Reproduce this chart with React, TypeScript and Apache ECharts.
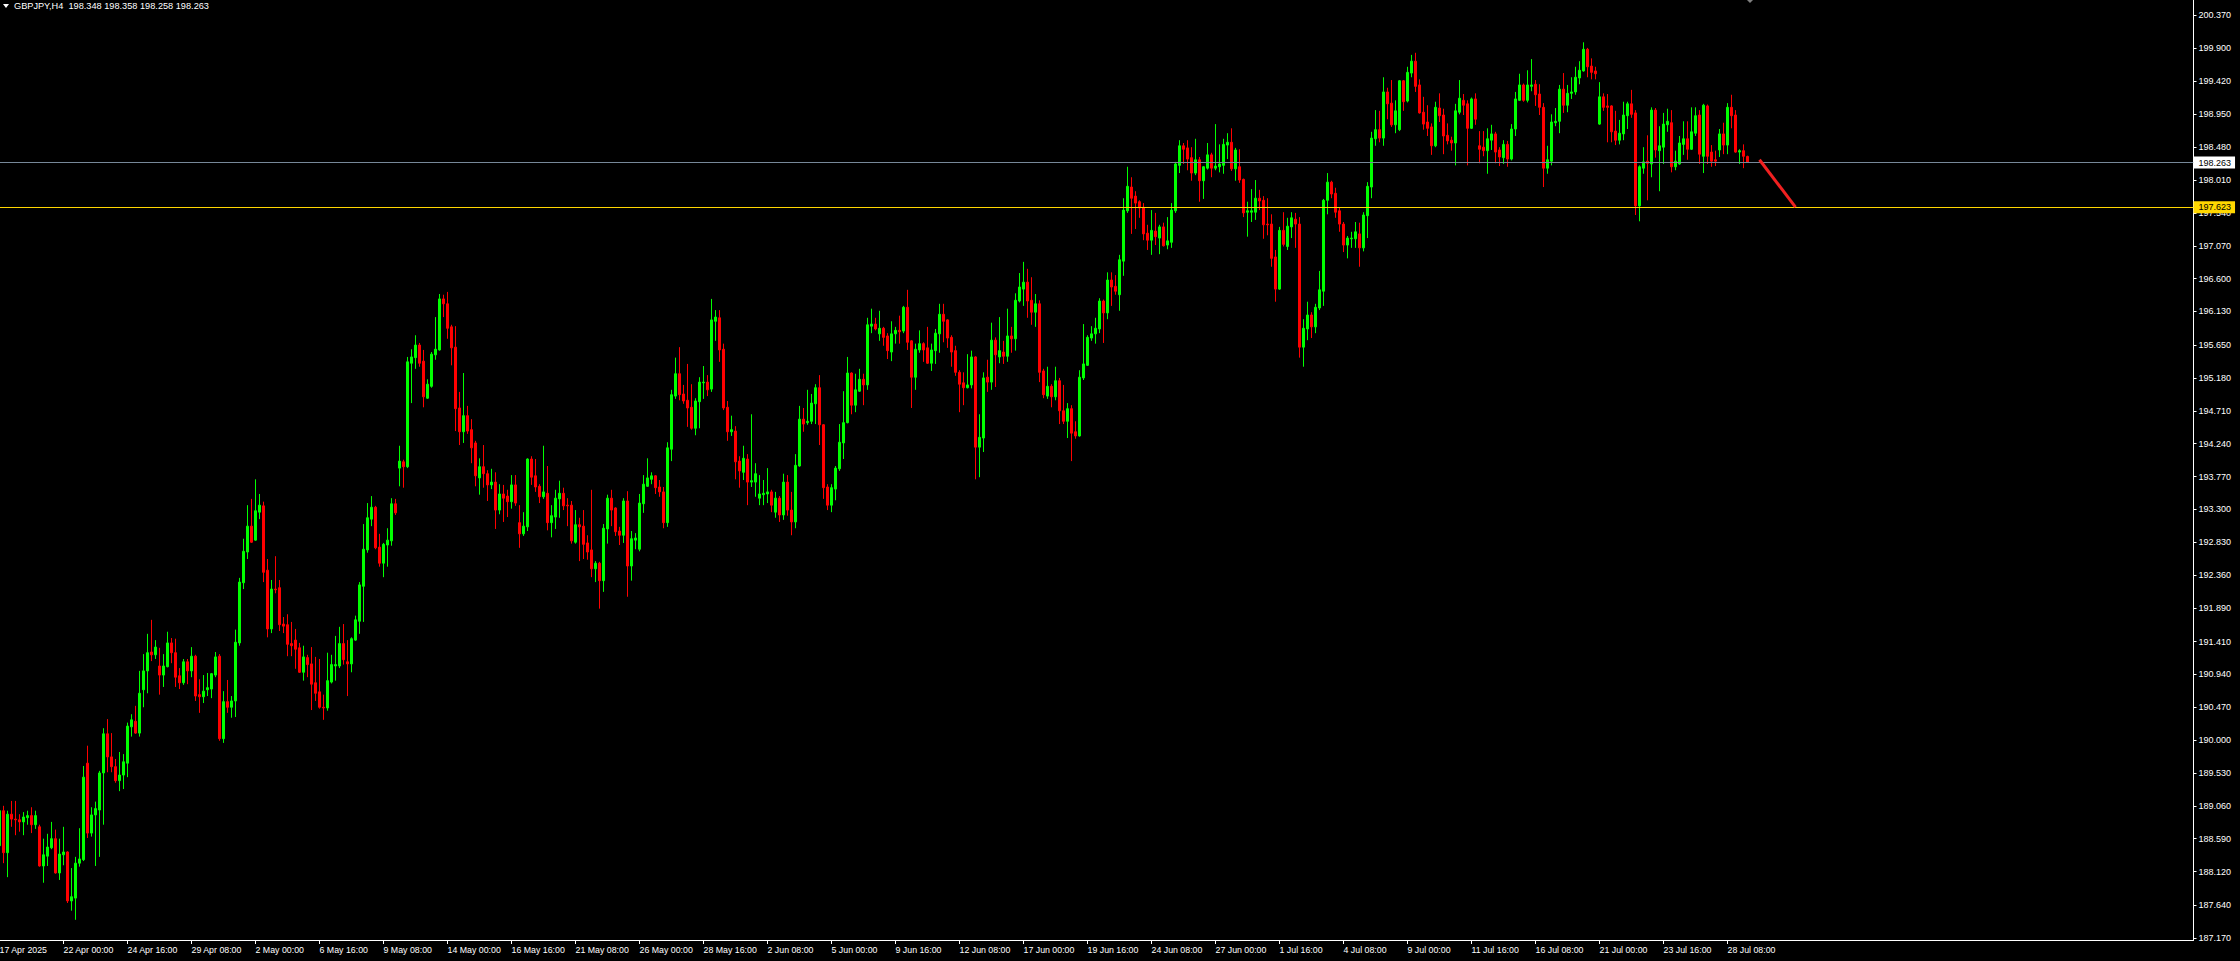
import React, { useEffect, useRef } from 'react';
import * as echarts from 'echarts';

// ---------- data ----------
const symbol = 'GBPJPY';
const period = 'H4';
const firstLabel = '17 Apr 2025';
const startTimeUTC = Date.UTC(2025, 3, 17, 8, 0); // first bar: Thu 17 Apr 2025 08:00
const barHours = 4;
const labelEvery = 16;
const shiftBars = 111; // empty slots right of the last bar (chart shift)

const yTickLabels = [
  '187.170', '187.640', '188.120', '188.590', '189.060', '189.530', '190.000', '190.470',
  '190.940', '191.410', '191.890', '192.360', '192.830', '193.300', '193.770', '194.240',
  '194.710', '195.180', '195.650', '196.130', '196.600', '197.070', '197.540', '198.010',
  '198.480', '198.950', '199.420', '199.900', '200.370',
];
const yMin = 187.141;
const yMax = 200.585;

const bidPrice = 198.263;
const levelPrice = 197.623;
const arrowFrom = [440, 198.3];
const arrowTo = [449, 197.623];

// open, close, low, high
const candles: number[][] = [
  [188.49, 188.99, 188.36, 189.06], [188.99, 188.39, 188.24, 189.06], [188.39, 188.94, 188.04, 188.99], [188.94, 188.87, 188.76, 189.13],
  [188.87, 188.86, 188.64, 189.13], [188.86, 188.83, 188.69, 188.94], [188.83, 188.90, 188.64, 188.97], [188.89, 188.92, 188.79, 188.99],
  [188.92, 188.79, 188.67, 189.04], [188.79, 188.92, 188.73, 188.99], [188.76, 188.20, 188.19, 188.79], [188.20, 188.36, 187.96, 188.59],
  [188.34, 188.47, 188.20, 188.66], [188.46, 188.59, 188.44, 188.83], [188.59, 188.10, 188.09, 188.72], [188.10, 188.37, 188.00, 188.59],
  [188.36, 188.40, 188.21, 188.76], [188.40, 187.70, 187.67, 188.41], [187.70, 187.76, 187.56, 188.17], [187.74, 188.24, 187.43, 188.33],
  [188.24, 188.30, 188.19, 188.74], [188.29, 189.47, 188.27, 189.63], [189.67, 188.67, 188.60, 189.92], [188.67, 188.93, 188.62, 189.04],
  [188.93, 189.02, 188.20, 189.12], [189.00, 189.53, 188.33, 189.56], [189.53, 190.09, 188.79, 190.17], [190.09, 189.76, 189.54, 190.30],
  [189.76, 189.62, 189.54, 190.10], [189.62, 189.42, 189.39, 189.73], [189.42, 189.50, 189.27, 189.83], [189.50, 189.69, 189.30, 189.80],
  [189.67, 190.20, 189.47, 190.25], [190.19, 190.29, 190.05, 190.37], [190.27, 190.10, 190.09, 190.49], [190.10, 190.67, 190.05, 190.99],
  [190.72, 190.99, 190.47, 191.23], [190.99, 191.25, 190.67, 191.52], [191.26, 191.22, 191.13, 191.72], [191.22, 191.33, 191.16, 191.43],
  [191.06, 190.93, 190.65, 191.32], [190.93, 191.06, 190.76, 191.23], [191.05, 191.39, 191.04, 191.55], [191.39, 191.25, 191.10, 191.46],
  [191.25, 190.90, 190.76, 191.45], [190.92, 190.82, 190.73, 191.03], [190.82, 191.12, 190.79, 191.16], [191.12, 190.99, 190.80, 191.16],
  [190.99, 191.20, 190.90, 191.33], [191.20, 190.63, 190.56, 191.22], [190.65, 190.62, 190.39, 190.87], [190.62, 190.70, 190.53, 190.93],
  [190.72, 190.75, 190.63, 190.96], [190.73, 190.95, 190.60, 190.96], [190.93, 191.19, 190.90, 191.26], [191.20, 190.02, 189.99, 191.23],
  [190.02, 190.55, 189.96, 190.70], [190.55, 190.47, 190.39, 190.86], [190.47, 190.56, 190.32, 190.63], [190.56, 191.40, 190.33, 191.58],
  [191.39, 192.26, 191.35, 192.32], [192.25, 192.70, 192.16, 192.88], [192.69, 193.06, 192.59, 193.36], [193.06, 192.83, 192.82, 193.45],
  [192.86, 193.28, 192.85, 193.73], [193.26, 193.36, 193.16, 193.52], [193.35, 192.40, 192.26, 193.41], [192.43, 191.59, 191.47, 192.59],
  [191.59, 192.16, 191.53, 192.29], [192.16, 192.15, 192.10, 192.63], [192.18, 191.65, 191.56, 192.29], [191.66, 191.63, 191.53, 191.76],
  [191.65, 191.37, 191.20, 191.80], [191.38, 191.35, 191.20, 191.69], [191.43, 191.30, 191.02, 191.59], [191.32, 190.97, 190.96, 191.39],
  [190.97, 191.19, 190.85, 191.35], [191.18, 191.08, 190.90, 191.22], [191.09, 190.80, 190.43, 191.33], [190.82, 190.67, 190.56, 191.19],
  [190.69, 190.47, 190.45, 191.16], [190.47, 190.46, 190.29, 190.65], [190.46, 190.85, 190.42, 191.25], [190.83, 191.08, 190.81, 191.22],
  [191.06, 191.08, 190.85, 191.49], [191.06, 191.38, 191.03, 191.62], [191.38, 191.15, 191.08, 191.66], [191.12, 191.09, 190.63, 191.43],
  [191.09, 191.45, 190.97, 191.47], [191.43, 191.72, 191.42, 191.78], [191.70, 192.22, 191.52, 192.26], [192.20, 192.73, 191.69, 193.09],
  [192.72, 193.18, 192.68, 193.39], [193.16, 193.33, 193.06, 193.49], [193.33, 192.75, 192.73, 193.35], [192.76, 192.53, 192.48, 192.95],
  [192.53, 192.80, 192.33, 192.82], [192.79, 192.86, 192.48, 193.03], [192.85, 193.38, 192.78, 193.46], [193.38, 193.25, 193.22, 193.45],
  [193.89, 193.99, 193.63, 194.21], [193.98, 193.91, 193.61, 194.01], [193.91, 195.41, 193.89, 195.48], [195.39, 195.48, 194.82, 195.59],
  [195.47, 195.65, 195.31, 195.79], [195.65, 195.39, 195.34, 195.68], [195.42, 194.91, 194.76, 195.58], [194.89, 195.09, 194.88, 195.16],
  [195.06, 195.52, 195.04, 195.55], [195.51, 195.59, 195.44, 196.05], [195.58, 196.31, 195.57, 196.38], [196.31, 196.24, 196.05, 196.37],
  [196.24, 195.89, 195.74, 196.41], [195.91, 195.61, 195.36, 195.94], [195.62, 194.74, 194.42, 195.92], [194.75, 194.41, 194.22, 194.98],
  [194.41, 194.64, 194.25, 195.25], [194.64, 194.42, 194.38, 194.78], [194.44, 194.18, 193.96, 194.59], [194.25, 193.78, 193.63, 194.28],
  [193.75, 193.91, 193.51, 194.03], [193.91, 193.81, 193.61, 194.22], [193.81, 193.65, 193.42, 193.86], [193.65, 193.69, 193.59, 193.88],
  [193.69, 193.29, 193.02, 193.83], [193.29, 193.52, 193.23, 193.66], [193.52, 193.46, 193.12, 193.65], [193.49, 193.41, 193.19, 193.58],
  [193.41, 193.65, 193.31, 193.79], [193.65, 193.39, 193.35, 193.79], [193.11, 192.95, 192.75, 193.36], [192.95, 193.06, 192.92, 193.26],
  [193.05, 194.02, 192.99, 194.03], [194.02, 193.76, 193.65, 194.06], [193.78, 193.62, 193.55, 194.02], [193.63, 193.48, 193.39, 193.66],
  [193.48, 193.55, 193.45, 194.21], [193.53, 193.11, 193.00, 193.92], [193.11, 193.21, 192.90, 193.36], [193.19, 193.46, 193.02, 193.58],
  [193.45, 193.53, 193.18, 193.71], [193.53, 193.35, 193.29, 193.61], [193.36, 193.35, 193.06, 193.46], [193.36, 192.85, 192.81, 193.42],
  [192.83, 193.08, 192.81, 193.29], [193.08, 193.05, 192.56, 193.18], [193.06, 192.80, 192.59, 193.29], [192.82, 192.69, 192.58, 192.93],
  [192.72, 192.45, 192.33, 193.58], [192.45, 192.53, 192.26, 192.56], [192.53, 192.28, 191.88, 192.55], [192.28, 193.03, 192.12, 193.09],
  [193.02, 193.46, 192.81, 193.51], [193.46, 193.29, 193.06, 193.58], [193.32, 192.98, 192.92, 193.33], [192.99, 192.93, 192.79, 193.05],
  [192.93, 193.42, 192.82, 193.46], [193.42, 192.49, 192.05, 193.56], [192.49, 192.88, 192.28, 192.99], [192.86, 192.89, 192.73, 192.96],
  [192.73, 193.39, 192.70, 193.52], [193.38, 193.66, 193.25, 193.79], [193.63, 193.75, 193.62, 194.03], [193.73, 193.78, 193.66, 193.83],
  [193.78, 193.61, 193.52, 193.79], [193.62, 193.55, 193.48, 193.72], [193.55, 193.11, 193.03, 193.62], [193.11, 194.18, 193.05, 194.26],
  [194.16, 194.94, 193.99, 195.01], [194.92, 195.24, 194.88, 195.47], [195.24, 194.94, 194.86, 195.62], [194.95, 194.85, 194.81, 195.08],
  [194.86, 194.75, 194.48, 195.38], [194.76, 194.46, 194.44, 195.09], [194.46, 194.85, 194.36, 194.89], [194.84, 195.12, 194.46, 195.19],
  [195.11, 195.12, 194.88, 195.35], [195.12, 195.01, 194.92, 195.22], [195.02, 196.01, 194.98, 196.31], [195.99, 196.05, 195.71, 196.15],
  [196.04, 195.58, 195.41, 196.15], [195.59, 194.75, 194.72, 195.67], [194.76, 194.41, 194.28, 194.85], [194.41, 194.44, 194.35, 194.64],
  [194.42, 193.98, 193.73, 194.49], [193.99, 193.85, 193.61, 194.06], [193.83, 194.03, 193.72, 194.21], [194.02, 193.69, 193.36, 194.09],
  [193.69, 193.71, 193.62, 194.66], [193.69, 193.81, 193.48, 193.96], [193.46, 193.52, 193.36, 193.79], [193.51, 193.53, 193.36, 193.72],
  [193.52, 193.55, 193.39, 193.89], [193.55, 193.36, 193.26, 193.58], [193.26, 193.46, 193.18, 193.55], [193.46, 193.22, 193.12, 193.49],
  [193.22, 193.69, 193.15, 193.81], [193.69, 193.29, 193.21, 193.79], [193.29, 193.12, 192.93, 193.55], [193.12, 193.93, 193.03, 194.09],
  [193.92, 194.59, 193.91, 194.78], [194.59, 194.52, 194.41, 194.75], [194.54, 194.56, 194.51, 195.01], [194.56, 194.82, 194.52, 194.95],
  [194.81, 195.04, 194.52, 195.09], [195.04, 194.51, 194.22, 195.22], [194.51, 193.61, 193.45, 194.52], [193.62, 193.36, 193.29, 193.66],
  [193.36, 193.61, 193.26, 193.66], [193.59, 193.89, 193.43, 193.92], [193.88, 194.26, 193.85, 194.52], [194.25, 194.54, 194.02, 194.99],
  [194.54, 195.25, 194.53, 195.48], [195.25, 194.79, 194.66, 195.26], [194.79, 195.01, 194.69, 195.24], [194.99, 195.16, 194.98, 195.31],
  [195.16, 195.08, 194.79, 195.24], [195.08, 195.94, 195.01, 196.04], [195.92, 195.95, 195.82, 196.17], [195.95, 195.88, 195.86, 196.04],
  [195.81, 195.89, 195.71, 196.14], [195.89, 195.76, 195.64, 195.91], [195.78, 195.57, 195.45, 195.82], [195.55, 195.81, 195.42, 195.99],
  [195.81, 195.86, 195.67, 195.91], [195.86, 195.84, 195.67, 196.07], [195.85, 196.19, 195.82, 196.21], [196.19, 195.69, 195.58, 196.44],
  [195.71, 195.19, 194.75, 195.72], [195.19, 195.59, 195.01, 195.67], [195.58, 195.67, 195.54, 195.86], [195.67, 195.58, 195.41, 195.69],
  [195.61, 195.39, 195.38, 195.91], [195.39, 195.58, 195.28, 195.67], [195.57, 195.82, 195.38, 195.88], [195.81, 196.09, 195.54, 196.24],
  [196.09, 195.99, 195.69, 196.24], [196.01, 195.75, 195.61, 196.02], [195.76, 195.55, 195.34, 195.79], [195.57, 195.26, 195.21, 195.64],
  [195.26, 195.09, 194.69, 195.29], [195.11, 195.04, 194.79, 195.26], [195.04, 195.08, 195.03, 195.52], [195.08, 195.48, 195.03, 195.57],
  [195.48, 194.19, 193.73, 195.49], [194.19, 194.33, 193.76, 194.66], [194.32, 195.18, 194.12, 195.26], [195.19, 195.12, 194.98, 195.44],
  [195.12, 195.72, 195.01, 195.97], [195.72, 195.51, 195.05, 195.76], [195.48, 195.57, 195.39, 196.05], [195.55, 195.49, 195.38, 195.71],
  [195.49, 195.78, 195.41, 196.17], [195.78, 195.74, 195.54, 195.91], [195.74, 196.29, 195.57, 196.39], [196.28, 196.48, 196.26, 196.68],
  [196.45, 196.55, 196.21, 196.84], [196.55, 196.28, 196.04, 196.74], [196.29, 196.12, 195.94, 196.62], [196.12, 196.24, 195.91, 196.38],
  [196.24, 195.26, 195.12, 196.29], [195.28, 194.94, 194.89, 195.31], [194.92, 195.06, 194.88, 195.34], [195.06, 194.91, 194.76, 195.09],
  [194.91, 195.14, 194.86, 195.34], [195.14, 194.71, 194.52, 195.18], [194.71, 194.56, 194.52, 195.08], [194.56, 194.74, 194.32, 194.82],
  [194.74, 194.39, 193.99, 194.79], [194.41, 194.35, 194.31, 194.56], [194.35, 195.19, 194.34, 195.29], [195.18, 195.38, 195.15, 195.95],
  [195.36, 195.76, 195.35, 195.79], [195.75, 195.81, 195.71, 195.92], [195.81, 195.89, 195.67, 196.04], [195.88, 196.28, 195.82, 196.32],
  [196.28, 196.11, 195.68, 196.30], [196.11, 196.58, 196.02, 196.69], [196.58, 196.48, 196.21, 196.69], [196.49, 196.42, 196.37, 196.65],
  [196.37, 196.87, 196.14, 196.94], [196.85, 197.58, 196.64, 197.75], [197.57, 197.92, 197.54, 198.20], [197.91, 197.75, 197.24, 198.05],
  [197.78, 197.68, 197.31, 197.85], [197.70, 197.61, 197.47, 197.72], [197.62, 197.24, 197.15, 197.68], [197.25, 197.15, 197.01, 197.37],
  [197.15, 197.29, 196.94, 197.58], [197.28, 197.20, 197.08, 197.54], [197.18, 197.34, 196.95, 197.37], [197.34, 197.07, 197.06, 197.40],
  [197.08, 197.14, 197.02, 197.48], [197.12, 197.58, 197.04, 197.68], [197.57, 198.24, 197.54, 198.27], [198.22, 198.50, 198.11, 198.58],
  [198.50, 198.45, 198.24, 198.54], [198.47, 198.31, 198.15, 198.58], [198.33, 198.11, 198.00, 198.48], [198.11, 198.30, 198.08, 198.60],
  [198.30, 198.00, 197.70, 198.34], [198.00, 198.20, 197.74, 198.21], [198.18, 198.37, 198.16, 198.54], [198.37, 198.18, 198.05, 198.40],
  [198.18, 198.21, 198.15, 198.81], [198.20, 198.24, 198.12, 198.52], [198.22, 198.52, 198.10, 198.60], [198.51, 198.55, 198.31, 198.68],
  [198.55, 198.17, 198.14, 198.75], [198.17, 198.44, 198.00, 198.47], [198.20, 198.01, 197.97, 198.45], [198.02, 197.54, 197.48, 198.03],
  [197.55, 197.57, 197.20, 197.70], [197.55, 197.57, 197.41, 197.88], [197.55, 197.75, 197.44, 198.01], [197.75, 197.71, 197.58, 197.87],
  [197.72, 197.37, 197.17, 197.78], [197.38, 197.37, 197.22, 197.75], [197.38, 196.89, 196.77, 197.52], [196.91, 196.45, 196.27, 197.01],
  [196.45, 197.29, 196.44, 197.34], [197.29, 197.09, 197.06, 197.55], [197.06, 197.35, 197.01, 197.47], [197.34, 197.47, 197.18, 197.55],
  [197.45, 197.38, 197.04, 197.54], [197.38, 195.62, 195.47, 197.48], [195.62, 195.89, 195.34, 196.02], [195.88, 196.08, 195.72, 196.27],
  [196.08, 195.91, 195.75, 196.12], [195.91, 196.19, 195.82, 196.24], [196.18, 196.44, 196.15, 196.71], [196.42, 197.72, 196.21, 197.74],
  [197.72, 197.98, 197.52, 198.11], [197.98, 197.81, 197.75, 198.00], [197.82, 197.55, 197.47, 197.90], [197.57, 197.38, 197.27, 197.61],
  [197.38, 197.08, 196.98, 197.41], [197.08, 197.18, 196.89, 197.21], [197.17, 197.18, 197.04, 197.27], [197.17, 197.27, 197.04, 197.41],
  [197.24, 197.04, 196.77, 197.40], [197.04, 197.51, 196.99, 197.55], [197.50, 197.92, 197.18, 197.98], [197.91, 198.61, 197.75, 198.70],
  [198.60, 198.73, 198.50, 199.01], [198.73, 198.61, 198.55, 199.00], [198.61, 199.27, 198.50, 199.48], [199.27, 199.10, 198.88, 199.33],
  [199.11, 198.80, 198.77, 199.44], [198.80, 199.00, 198.68, 199.15], [198.73, 199.43, 198.71, 199.44], [199.43, 199.13, 199.00, 199.44],
  [199.14, 199.55, 199.12, 199.63], [199.54, 199.71, 199.48, 199.80], [199.71, 199.35, 199.27, 199.83], [199.37, 198.97, 198.96, 199.45],
  [198.98, 198.81, 198.73, 199.20], [198.84, 198.75, 198.64, 199.08], [198.77, 198.50, 198.37, 198.82], [198.50, 199.05, 198.48, 199.13],
  [199.04, 198.93, 198.84, 199.25], [198.94, 198.64, 198.38, 199.03], [198.65, 198.57, 198.52, 198.82], [198.58, 198.54, 198.43, 198.63],
  [198.54, 199.00, 198.22, 199.10], [198.98, 199.18, 198.95, 199.44], [199.15, 199.08, 198.94, 199.24], [199.10, 198.75, 198.22, 199.15],
  [198.75, 199.17, 198.74, 199.19], [199.17, 198.88, 198.80, 199.25], [198.50, 198.45, 198.25, 198.71], [198.48, 198.43, 198.35, 198.71],
  [198.43, 198.60, 198.10, 198.75], [198.58, 198.67, 198.44, 198.80], [198.67, 198.41, 198.25, 198.70], [198.44, 198.34, 198.21, 198.48],
  [198.33, 198.52, 198.24, 198.58], [198.52, 198.31, 198.20, 198.57], [198.31, 198.74, 198.29, 198.81], [198.74, 199.17, 198.64, 199.27],
  [199.15, 199.37, 199.14, 199.53], [199.37, 199.15, 199.13, 199.39], [199.15, 199.37, 199.12, 199.58], [199.35, 199.37, 199.28, 199.74],
  [199.38, 199.23, 199.07, 199.44], [199.24, 199.05, 198.94, 199.38], [199.05, 198.18, 197.91, 199.11], [198.18, 198.30, 198.10, 198.50],
  [198.28, 198.84, 198.22, 198.95], [198.83, 198.85, 198.78, 199.04], [198.85, 199.31, 198.68, 199.37], [199.31, 199.08, 198.97, 199.54],
  [199.08, 199.25, 198.98, 199.37], [199.25, 199.27, 199.17, 199.48], [199.27, 199.48, 199.23, 199.63], [199.47, 199.58, 199.38, 199.71],
  [199.57, 199.88, 199.56, 199.98], [199.88, 199.63, 199.48, 199.90], [199.64, 199.55, 199.45, 199.75], [199.57, 199.53, 199.45, 199.63],
  [198.81, 199.20, 198.80, 199.41], [199.20, 199.05, 199.00, 199.25], [199.07, 199.05, 198.55, 199.24], [199.07, 198.70, 198.55, 199.08],
  [198.71, 198.58, 198.51, 199.00], [198.58, 198.68, 198.52, 198.87], [198.67, 198.94, 198.58, 199.13], [198.93, 199.10, 198.74, 199.13],
  [199.10, 198.95, 198.90, 199.30], [198.97, 197.64, 197.51, 199.01], [197.64, 198.20, 197.42, 198.22], [198.18, 198.27, 198.10, 198.48],
  [198.28, 198.25, 197.72, 198.65], [198.24, 199.01, 198.05, 199.05], [199.01, 198.44, 198.33, 199.04], [198.43, 198.50, 197.85, 198.78],
  [198.48, 198.81, 198.24, 198.97], [198.80, 198.85, 198.70, 199.03], [198.83, 198.20, 198.12, 199.01], [198.20, 198.28, 198.15, 198.43],
  [198.24, 198.54, 198.23, 198.64], [198.52, 198.60, 198.37, 198.85], [198.60, 198.45, 198.30, 198.85], [198.45, 198.70, 198.44, 199.05],
  [198.68, 198.93, 198.64, 199.05], [198.94, 198.38, 198.24, 199.01], [198.35, 199.08, 198.11, 199.10], [199.07, 198.35, 198.24, 199.09],
  [198.41, 198.28, 198.20, 198.51], [198.30, 198.28, 198.21, 198.43], [198.44, 198.67, 198.34, 198.74], [198.67, 198.51, 198.38, 198.83],
  [198.51, 199.05, 198.38, 199.11], [199.05, 198.93, 198.75, 199.23], [198.94, 198.41, 198.40, 199.01], [198.41, 198.43, 198.24, 198.45],
  [198.43, 198.35, 198.18, 198.52], [198.348, 198.263, 198.258, 198.358],
];

// ---------- axis helpers (built from the data above) ----------
const MONTHS = ['Jan', 'Feb', 'Mar', 'Apr', 'May', 'Jun', 'Jul', 'Aug', 'Sep', 'Oct', 'Nov', 'Dec'];
function buildCategories(count: number): string[] {
  const out: string[] = [];
  let t = startTimeUTC;
  while (out.length < count) {
    const d = new Date(t);
    const wd = d.getUTCDay();
    if (wd !== 0 && wd !== 6) {
      const hh = String(d.getUTCHours()).padStart(2, '0');
      out.push(`${d.getUTCDate()} ${MONTHS[d.getUTCMonth()]} ${hh}:00`);
    }
    t += barHours * 3600 * 1000;
  }
  return out;
}
const categories = [...buildCategories(candles.length), ...new Array(shiftBars).fill('')];
const yTickValues = yTickLabels.map(Number);
const showTimeLabel = (index: number) => index % labelEvery === 0 && index < candles.length;

const last = candles[candles.length - 1];
const titleText = `${symbol},${period}  ${last[0].toFixed(3)} ${last[3].toFixed(3)} ${last[2].toFixed(3)} ${last[1].toFixed(3)}`;

const FONT = "'Liberation Sans', Arial, sans-serif";

export default function App() {
  const ref = useRef<HTMLDivElement>(null);
  useEffect(() => {
    if (!ref.current) return;
    const chart = echarts.init(ref.current, null, { renderer: 'svg' });
    const option: any = {
      animation: false,
      backgroundColor: '#000000',
      grid: { left: -2.5, right: 46.5, top: 0, bottom: 21, containLabel: false, outerBoundsMode: 'none' },
      xAxis: {
        type: 'category',
        data: categories,
        boundaryGap: true,
        axisLine: { show: true, lineStyle: { color: '#ffffff', width: 1 } },
        axisTick: { show: true, alignWithLabel: true, interval: showTimeLabel, length: 4, lineStyle: { color: '#ffffff' } },
        axisLabel: {
          interval: showTimeLabel,
          formatter: (v: string, i: number) => (i === 0 ? firstLabel : v),
          color: '#ffffff',
          fontFamily: FONT,
          fontSize: 8.8,
          align: 'left',
          margin: 5,
        },
        splitLine: { show: false },
      },
      yAxis: {
        type: 'value',
        position: 'right',
        min: yMin,
        max: yMax,
        scale: true,
        axisLine: { show: true, lineStyle: { color: '#ffffff', width: 1 } },
        axisTick: { show: true, length: 3, customValues: yTickValues, lineStyle: { color: '#ffffff' } },
        axisLabel: {
          customValues: yTickValues,
          formatter: (v: number) => v.toFixed(3),
          color: '#ffffff',
          fontFamily: FONT,
          fontSize: 9,
          margin: 5,
        },
        splitLine: { show: false },
      },
      series: [
        {
          type: 'candlestick',
          data: candles,
          barWidth: 2,
          itemStyle: {
            color: '#00ff00',
            color0: '#ff0000',
            borderColor: '#00ff00',
            borderColor0: '#ff0000',
            borderColorDoji: '#00ff00',
            borderWidth: 1,
          },
          emphasis: { disabled: true },
          markLine: {
            silent: true,
            symbol: ['none', 'none'],
            animation: false,
            data: [
              {
                yAxis: bidPrice,
                lineStyle: { color: '#778899', width: 1, type: 'solid' },
                label: {
                  show: true, position: 'end', distance: 0, formatter: bidPrice.toFixed(3),
                  backgroundColor: '#ffffff', color: '#000000', padding: [2, 4, 1, 5],
                  fontFamily: FONT, fontSize: 9,
                },
              },
              {
                yAxis: levelPrice,
                lineStyle: { color: '#ffd700', width: 1, type: 'solid' },
                label: {
                  show: true, position: 'end', distance: 0, formatter: levelPrice.toFixed(3),
                  backgroundColor: '#ffd700', color: '#000000', padding: [2, 4, 1, 5],
                  fontFamily: FONT, fontSize: 9,
                },
              },
              [
                { coord: arrowFrom, lineStyle: { color: '#f02020', width: 3, type: 'solid' }, label: { show: false } },
                { coord: arrowTo },
              ],
            ],
          },
        },
      ],
      graphic: [
        { type: 'polygon', shape: { points: [[3, 4], [9, 4], [6, 8]] }, style: { fill: '#ffffff' } },
        {
          type: 'text', left: 14, top: 1,
          style: { text: titleText, fill: '#ffffff', fontFamily: FONT, fontSize: 9.2 },
        },
        { type: 'polygon', shape: { points: [[1747, 0], [1753, 0], [1750, 3]] }, style: { fill: '#808080' } },
      ],
    };
    chart.setOption(option);
    return () => chart.dispose();
  }, []);
  return (
    <div
      ref={ref}
      style={{ position: 'absolute', left: 0, top: 0, width: 2240, height: 961, background: '#000000' }}
    />
  );
}
